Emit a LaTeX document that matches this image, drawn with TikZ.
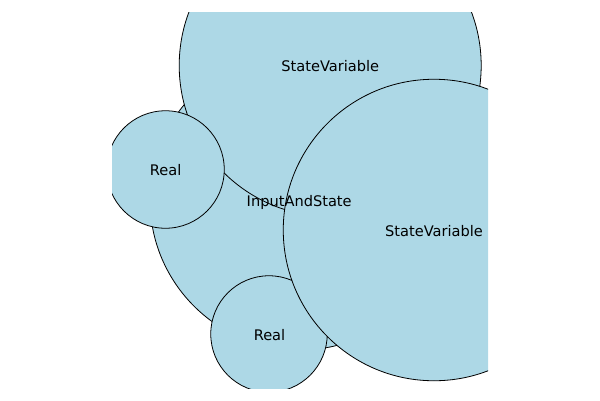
\documentclass[tikz,border=0pt]{standalone}
\usepackage{fontspec}
\setmainfont{DejaVu Sans}
\definecolor{lightblue}{RGB}{173,216,230}
\begin{document}
\begin{tikzpicture}[x=1pt,y=-1pt,
  bub/.style={circle, draw=black, fill=lightblue, line width=0.8pt, inner sep=0pt},
  lab/.style={font=\fontsize{14.6}{17}\selectfont, inner sep=0pt, anchor=base}]
\useasboundingbox (0,0) rectangle (600,400);
\begin{scope}
\clip (112,12) rectangle (488,388);
\node[bub, minimum size=300pt] (ias) at (300,200) {};
\node[bub, minimum size=302pt] (sv1) at (330.2,65.5) {};
\node[bub, minimum size=117.5pt] (r1) at (165.5,169.5) {};
\node[bub, minimum size=116.5pt] (r2) at (269,334) {};
\node[bub, minimum size=301.5pt] (sv2) at (434,230) {};
\end{scope}
\node[lab] (lias) at (299.2,206) {InputAndState};
\node[lab] (lsv1) at (330.3,71) {StateVariable};
\node[lab] (lr1) at (165.7,175) {Real};
\node[lab] (lr2) at (269.5,340) {Real};
\node[lab] (lsv2) at (434,236) {StateVariable};
\end{tikzpicture}
\end{document}
